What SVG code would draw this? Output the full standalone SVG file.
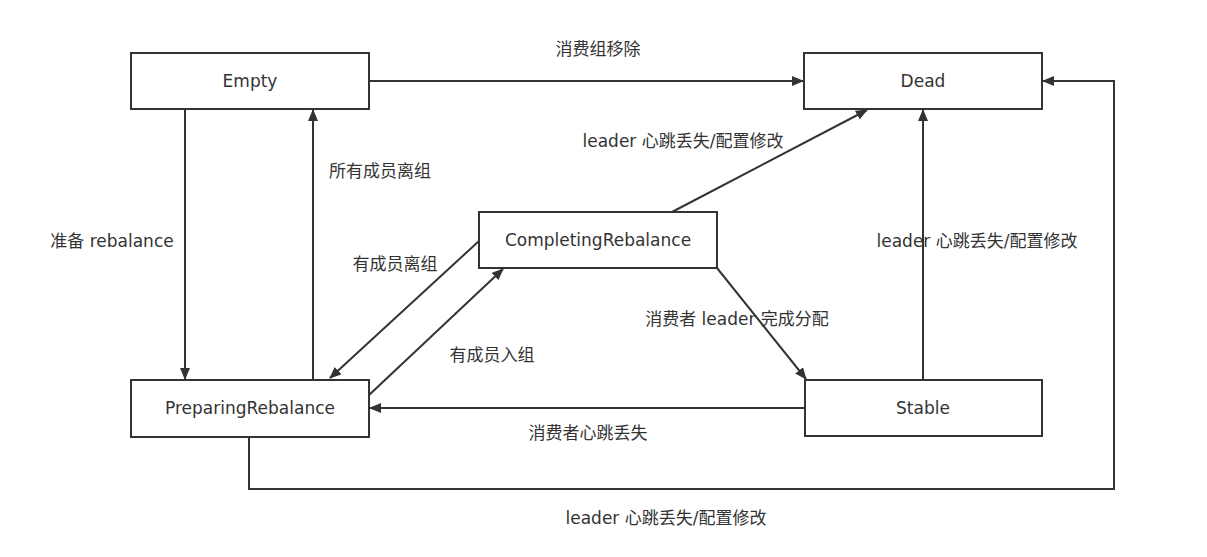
<svg xmlns="http://www.w3.org/2000/svg" width="1207" height="557" viewBox="0 0 1207 557">
<style>
.node rect{fill:#fff;stroke:#333;stroke-width:2}
text{font-family:"DejaVu Sans","Noto Sans CJK SC",sans-serif;font-size:17px;fill:#333;text-anchor:middle;dominant-baseline:central}
.edge{fill:none;stroke:#333;stroke-width:2}
</style>
<defs>
<marker id="arr" viewBox="0 0 12 10" refX="11" refY="5" markerWidth="12" markerHeight="10" markerUnits="userSpaceOnUse" orient="auto">
<path d="M0,0 L12,5 L0,10 z" fill="#333"/>
</marker>
</defs>
<rect width="1207" height="557" fill="#fff"/>
<g id="connectors">
<path class="edge" d="M369,81 H803" marker-end="url(#arr)"/>
<path class="edge" d="M185,109 V379" marker-end="url(#arr)"/>
<path class="edge" d="M313,380 V110" marker-end="url(#arr)"/>
<path class="edge" d="M479,241 L330,378" marker-end="url(#arr)"/>
<path class="edge" d="M368,396 L503,269" marker-end="url(#arr)"/>
<path class="edge" d="M672,212 L867,110" marker-end="url(#arr)"/>
<path class="edge" d="M717,268 L806,379" marker-end="url(#arr)"/>
<path class="edge" d="M805,408 H370" marker-end="url(#arr)"/>
<path class="edge" d="M923,380 V110" marker-end="url(#arr)"/>
<path class="edge" d="M249,437 V489 H1114 V81 H1043" marker-end="url(#arr)"/>
<text x="598" y="49">消费组移除</text>
<text x="112" y="241">准备 rebalance</text>
<text x="380" y="171">所有成员离组</text>
<text x="395" y="264">有成员离组</text>
<text x="492" y="355">有成员入组</text>
<text x="683" y="141">leader 心跳丢失/配置修改</text>
<text x="737" y="319">消费者 leader 完成分配</text>
<text x="588" y="433">消费者心跳丢失</text>
<text x="977" y="241">leader 心跳丢失/配置修改</text>
<text x="666" y="518">leader 心跳丢失/配置修改</text>
</g>
<g id="empty" class="node"><rect x="131" y="53" width="238" height="56"/><text x="250" y="81">Empty</text></g>
<g id="dead" class="node"><rect x="804" y="53" width="238" height="56"/><text x="923" y="81">Dead</text></g>
<g id="preparing" class="node"><rect x="131" y="380" width="238" height="57"/><text x="250" y="408">PreparingRebalance</text></g>
<g id="completing" class="node"><rect x="479" y="212" width="238" height="56"/><text x="598" y="240">CompletingRebalance</text></g>
<g id="stable" class="node"><rect x="805" y="380" width="237" height="56"/><text x="923" y="408">Stable</text></g>
</svg>
